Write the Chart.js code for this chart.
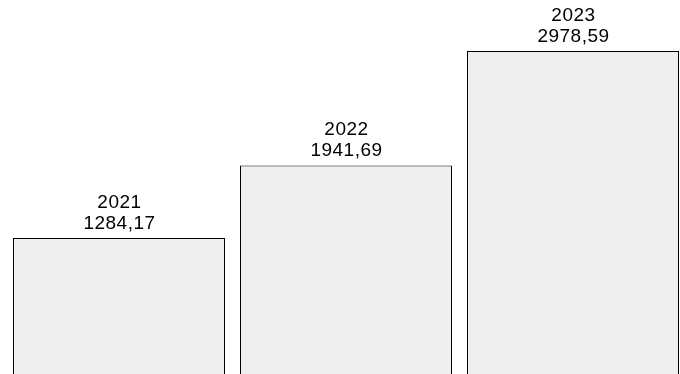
<!DOCTYPE html>
<html>
<head>
<meta charset="utf-8">
<script src="https://cdn.jsdelivr.net/npm/chart.js@4/dist/chart.umd.min.js"></script>
<style>
html,body{margin:0;padding:0;background:#fff;overflow:hidden;width:680px;height:374px;}
#wrap{position:absolute;left:0;top:0;width:692px;height:374px;}
</style>
</head>
<body>
<div id="wrap"><canvas id="c" width="692" height="374"></canvas></div>
<script>
const categories = ["2021", "2022", "2023"];
const values = [1284.17, 1941.69, 2978.59];

const labelPlugin = {
  id: 'barLabels',
  afterDatasetsDraw(chart) {
    const ctx = chart.ctx;
    const meta = chart.getDatasetMeta(0);
    ctx.save();
    ctx.fillStyle = '#000';
    ctx.font = '19px "Liberation Sans", Arial, sans-serif';
    if ('letterSpacing' in ctx) ctx.letterSpacing = '0.5px';
    ctx.textAlign = 'center';
    ctx.textBaseline = 'alphabetic';
    meta.data.forEach((bar, i) => {
      const v = values[i].toFixed(2).replace('.', ',');
      ctx.fillText(v, bar.x + 0.5, bar.y - 9);
      ctx.fillText(categories[i], bar.x + 0.5, bar.y - 30);
    });
    ctx.restore();
  }
};

new Chart(document.getElementById('c'), {
  type: 'bar',
  data: {
    labels: categories,
    datasets: [{
      data: values,
      backgroundColor: '#efefef',
      borderColor: '#000',
      borderWidth: 1,
      borderSkipped: 'start',
      barPercentage: 212/227,
      categoryPercentage: 1
    }]
  },
  options: {
    responsive: false,
    animation: false,
    devicePixelRatio: 1,
    layout: { padding: { left: 5.5, right: 5.5, top: 0, bottom: 0 } },
    plugins: { legend: { display: false }, tooltip: { enabled: false } },
    scales: {
      x: { display: false },
      y: { display: false, min: 51.6, max: 3440.6 }
    }
  },
  plugins: [labelPlugin]
});
</script>
</body>
</html>
